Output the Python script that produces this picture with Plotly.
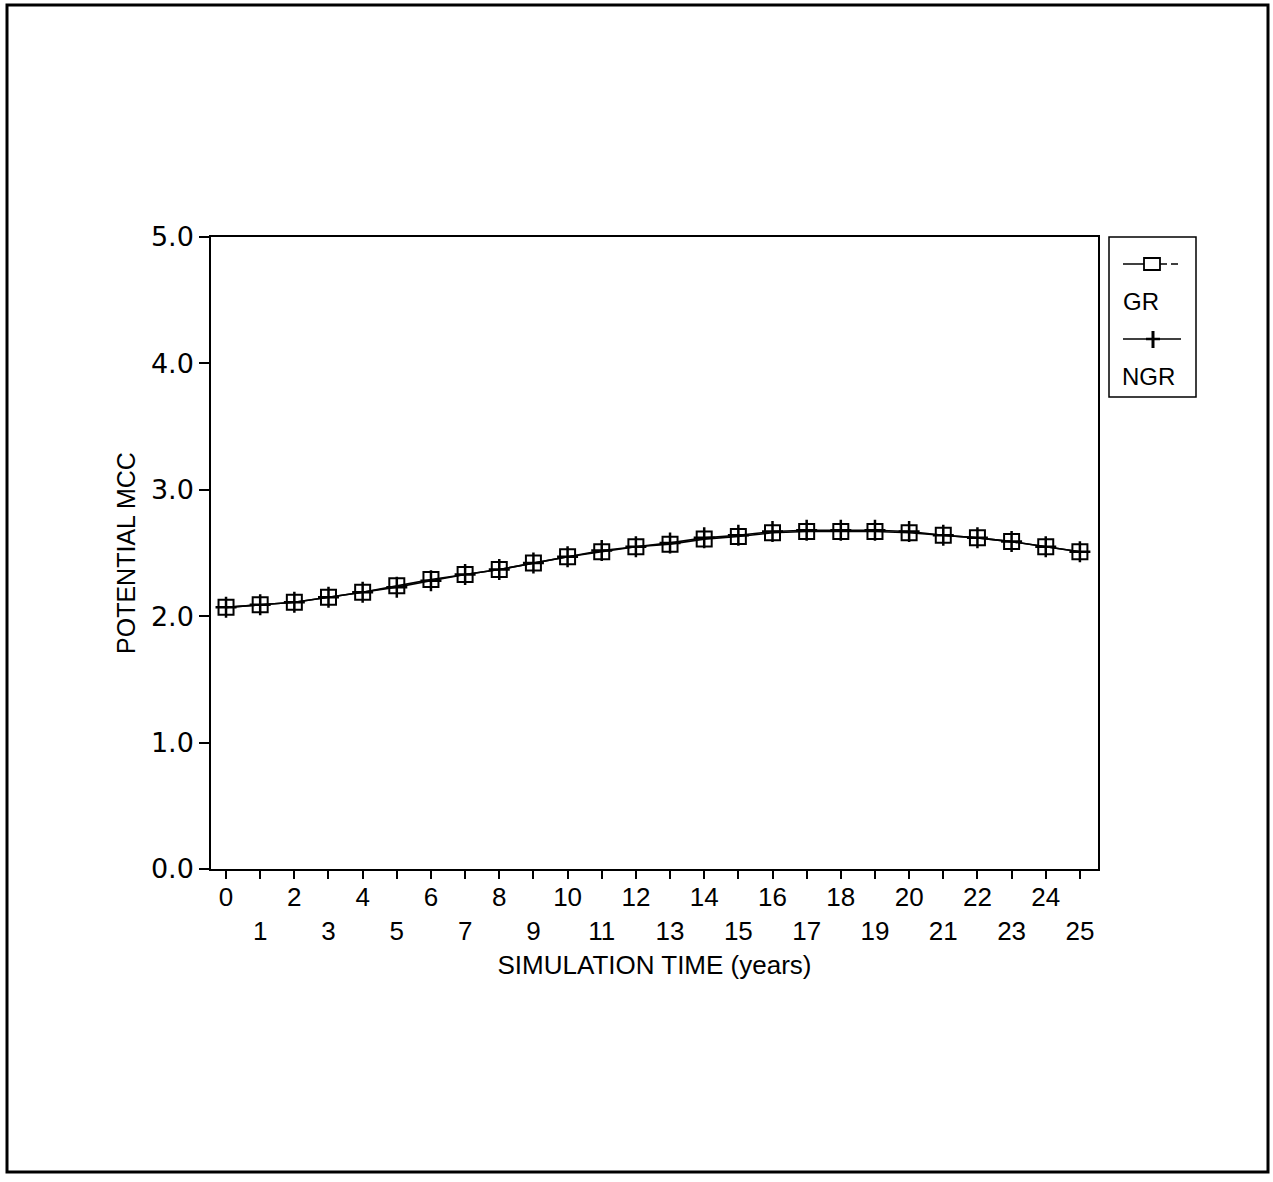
import plotly.graph_objects as go

# Simulation time (years) and potential MCC for the two runs
years = list(range(0, 26))
gr_mcc = [2.07, 2.09, 2.11, 2.15, 2.19, 2.24, 2.29, 2.33, 2.37, 2.42, 2.47, 2.51, 2.55,
          2.57, 2.61, 2.63, 2.66, 2.67, 2.67, 2.67, 2.66, 2.64, 2.62, 2.59, 2.55, 2.51]
ngr_mcc = [2.07, 2.09, 2.11, 2.15, 2.19, 2.23, 2.28, 2.33, 2.37, 2.42, 2.47, 2.52, 2.55,
           2.58, 2.62, 2.64, 2.67, 2.68, 2.68, 2.68, 2.67, 2.64, 2.62, 2.59, 2.55, 2.51]

y_ticks = [0.0, 1.0, 2.0, 3.0, 4.0, 5.0]
y_tick_labels = ["0.0", "1.0", "2.0", "3.0", "4.0", "5.0"]
series_names = ["GR", "NGR"]

# staggered x labels: even years on the first row, odd years on the second
x_tick_labels = [str(v) if v % 2 == 0 else "<br>" + str(v) for v in years]

W, H = 1273, 1182
L, R, T, B = 211, 1098, 237, 869


def px(xp):
    return (xp - L) / (R - L)


def py(yp):
    return (B - yp) / (B - T)


fig = go.Figure()
fig.add_trace(go.Scatter(
    x=years, y=gr_mcc, name=series_names[0], mode="lines+markers",
    line=dict(color="black", width=1.6),
    marker=dict(symbol="square-open", size=15, color="black", line=dict(width=2)),
))
fig.add_trace(go.Scatter(
    x=years, y=ngr_mcc, name=series_names[1], mode="lines+markers",
    line=dict(color="black", width=1.6),
    marker=dict(symbol="cross-thin-open", size=15, color="black", line=dict(width=2.5)),
))

shapes = []
# outer frame
shapes.append(dict(type="rect", xref="paper", yref="paper",
                   x0=px(7), x1=px(1268), y0=py(1172), y1=py(5),
                   line=dict(color="black", width=3)))
# legend frame
shapes.append(dict(type="rect", xref="paper", yref="paper",
                   x0=px(1109), x1=px(1196), y0=py(397), y1=py(237),
                   line=dict(color="black", width=1.5)))
# GR legend sample
shapes.append(dict(type="line", xref="paper", yref="paper",
                   x0=px(1123), x1=px(1144), y0=py(264), y1=py(264),
                   line=dict(color="black", width=1.5)))
shapes.append(dict(type="line", xref="paper", yref="paper",
                   x0=px(1160), x1=px(1181), y0=py(264), y1=py(264),
                   line=dict(color="black", width=1.5, dash="7px,4px")))
shapes.append(dict(type="rect", xref="paper", yref="paper",
                   x0=px(1144), x1=px(1160), y0=py(270), y1=py(258),
                   line=dict(color="black", width=1.8)))
# NGR legend sample
shapes.append(dict(type="line", xref="paper", yref="paper",
                   x0=px(1123), x1=px(1181), y0=py(339), y1=py(339),
                   line=dict(color="black", width=1.5)))
shapes.append(dict(type="line", xref="paper", yref="paper",
                   x0=px(1153), x1=px(1153), y0=py(348), y1=py(331),
                   line=dict(color="black", width=3)))
shapes.append(dict(type="line", xref="paper", yref="paper",
                   x0=px(1146), x1=px(1160), y0=py(339), y1=py(339),
                   line=dict(color="black", width=2.5)))

legend_font = dict(family="Liberation Sans", size=24, color="black")
annotations = [
    dict(text=series_names[0], xref="paper", yref="paper", x=px(1121), y=py(301),
         xanchor="left", yanchor="middle", showarrow=False, font=legend_font),
    dict(text=series_names[1], xref="paper", yref="paper", x=px(1120), y=py(376),
         xanchor="left", yanchor="middle", showarrow=False, font=legend_font),
]

fig.update_layout(
    width=W, height=H, autosize=False,
    margin=dict(l=L, r=W - R, t=T, b=H - B, pad=0),
    paper_bgcolor="white", plot_bgcolor="white",
    showlegend=False,
    shapes=shapes, annotations=annotations,
)

fig.update_xaxes(
    range=[-0.44, 25.53],
    tickmode="array", tickvals=years, ticktext=x_tick_labels,
    ticks="outside", ticklen=8, tickwidth=1.5, tickcolor="black",
    showline=True, linecolor="black", linewidth=1.5, mirror=True,
    showgrid=False, zeroline=False,
    tickangle=0, ticklabelstandoff=-4,
    tickfont=dict(family="Liberation Sans", size=26, color="black"),
    title=dict(text="SIMULATION TIME (years)",
               font=dict(family="Liberation Sans", size=26, color="black"),
               standoff=11),
)
fig.update_yaxes(
    range=[0, 5],
    tickmode="array", tickvals=y_ticks, ticktext=y_tick_labels,
    ticks="outside", ticklen=10, tickwidth=1.5, tickcolor="black",
    showline=True, linecolor="black", linewidth=1.5, mirror=True,
    showgrid=False, zeroline=False,
    tickfont=dict(family="DejaVu Sans", size=27, color="black"),
    title=dict(text="POTENTIAL MCC",
               font=dict(family="Liberation Sans", size=25, color="black"),
               standoff=8),
)

fig.write_html("out.html")
